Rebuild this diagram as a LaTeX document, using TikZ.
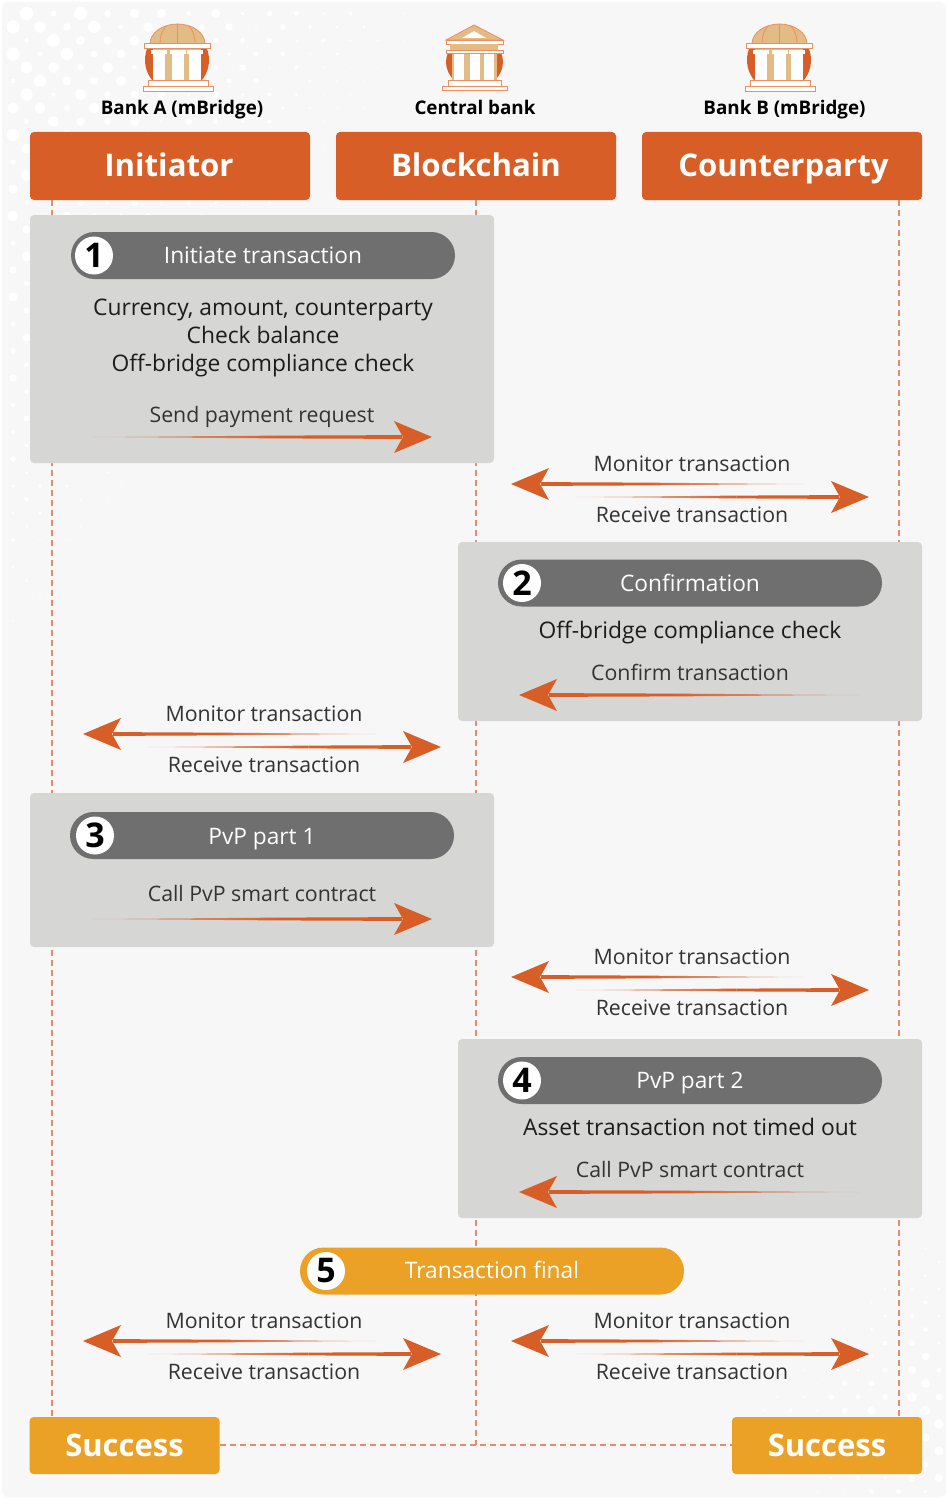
\documentclass[tikz,border=0pt]{standalone}
\usepackage{fontspec}
\setmainfont{Open Sans}
\usetikzlibrary{calc}
\definecolor{pagebg}{HTML}{F7F7F7}
\definecolor{orangeA}{HTML}{D85E27}
\definecolor{amberA}{HTML}{EBA125}
\definecolor{panelA}{HTML}{D6D6D4}
\definecolor{pillA}{HTML}{6F6F6F}
\definecolor{lifeA}{HTML}{E58C6C}
\definecolor{domeA}{HTML}{E3BB85}
\definecolor{edgeA}{HTML}{EB8F5F}
\definecolor{inkA}{HTML}{1C1C1C}
\tikzset{
 header/.style={fill=orangeA,rounded corners=4pt,minimum width=280pt,minimum height=68pt,inner sep=0pt},
 headtext/.style={anchor=base,text=white,font=\fontsize{31.2}{36}\selectfont\bfseries,inner sep=0pt},
 done/.style={fill=amberA,rounded corners=4pt,minimum width=190pt,minimum height=57pt,text=white,font=\fontsize{31}{36}\selectfont\bfseries,inner sep=0pt},
 panel/.style={fill=panelA,rounded corners=4pt,minimum width=464pt,inner sep=0pt},
 pill/.style={fill=pillA,rounded corners=23.5pt,minimum width=384pt,minimum height=47pt,inner sep=0pt},
 pillgold/.style={pill,fill=amberA},
 num/.style={circle,fill=white,minimum size=38pt,inner sep=0pt,text=black,font=\fontsize{34}{36}\selectfont\bfseries},
 pilltext/.style={anchor=base,text=white,font=\fontsize{22.7}{26}\selectfont,inner sep=0pt},
 bodytext/.style={anchor=base,text=inkA,font=\fontsize{22.8}{28.4}\selectfont,inner sep=0pt},
 msg/.style={anchor=base,text=inkA!90!white,font=\fontsize{21.3}{26}\selectfont,inner sep=0pt},
 bankname/.style={anchor=base,text=black,font=\fontsize{18.8}{22}\selectfont\bfseries,inner sep=0pt},
 life/.style={draw=lifeA,line width=1.3pt,dash pattern=on 6pt off 4pt},
}
% right-pointing and left-pointing tapered message arrows
\newcommand{\rarrow}[3]{%
 \coordinate (mid) at ($(#2)!0.45!(#1)$);
 \shade[left color=orangeA!25!#3,right color=orangeA] (#1) -- ($(mid)+(0,-1.4)$) -- ($(mid)+(0,1.4)$) -- cycle;
 \fill[orangeA] ($(mid)+(0,-1.4)$) -- ($(#2)+(-30,-1.9)$) -- ($(#2)+(-30,1.9)$) -- ($(mid)+(0,1.4)$) -- cycle;
 \fill[orangeA] (#2) -- ++(-38,-16) -- ++(9,16) -- ++(-9,16) -- cycle;}
\newcommand{\larrow}[3]{%
 \coordinate (mid) at ($(#2)!0.45!(#1)$);
 \shade[right color=orangeA!25!#3,left color=orangeA] (#1) -- ($(mid)+(0,-1.4)$) -- ($(mid)+(0,1.4)$) -- cycle;
 \fill[orangeA] ($(mid)+(0,-1.4)$) -- ($(#2)+(30,-1.9)$) -- ($(#2)+(30,1.9)$) -- ($(mid)+(0,1.4)$) -- cycle;
 \fill[orangeA] (#2) -- ++(38,-16) -- ++(-9,16) -- ++(9,16) -- cycle;}
% pair of monitor / receive arrows; #1 prefix, #2 x of left tip, #3 y of upper arrow
\newcommand{\msgpair}[3]{%
 \coordinate (#1lt) at (#2,#3);
 \coordinate (#1lb) at (#2+294,#3);
 \coordinate (#1rb) at (#2+64,#3+13);
 \coordinate (#1rt) at (#2+358,#3+13);
 \larrow{#1lb}{#1lt}{pagebg}
 \rarrow{#1rb}{#1rt}{pagebg}
 \node[msg] (#1mon) at (#2+181,#3-13) {Monitor transaction};
 \node[msg] (#1rec) at (#2+181,#3+38) {Receive transaction};}
\newcommand{\domebank}[1]{%
 \begin{scope}[shift={(#1,0)}]
 \fill[orangeA] (177,60) circle (32);
 \fill[domeA,draw=edgeA,line width=.8pt] (150,44) arc (180:360:27.5 and 20) -- cycle;
 \draw[edgeA,line width=.8pt] (177.5,24) -- (177.5,44) (166,26) .. controls (161,32) and (160,38) .. (160,44) (189,26) .. controls (194,32) and (195,38) .. (195,44);
 \fill[domeA] (153,48) rectangle (201,80);
 \fill[white,draw=edgeA,line width=.8pt] (144,43) rectangle (210,48);
 \foreach \cx in {159,177.5,195}{\fill[white] (\cx-6,53) rectangle (\cx+6,80); \fill[white] (\cx-8,50) rectangle (\cx+8,54);}
 \fill[white,draw=edgeA,line width=.7pt] (148,80) rectangle (208,86);
 \fill[white,draw=edgeA,line width=.7pt] (143,86) rectangle (213,91);
 \end{scope}}
\begin{document}
\begin{tikzpicture}[x=1pt,y=-1pt]
\useasboundingbox (0,0) rectangle (948,1501);
\fill[white] (0,0) rectangle (948,1501);
\fill[pagebg,rounded corners=5pt] (2,2) rectangle (946,1497);
% background dots
\begin{scope}
\clip (2,2) rectangle (946,1497);
\foreach \j in {1,...,50}{\foreach \i in {0,...,18}{
 \pgfmathsetmacro{\px}{13+27*\i+mod(\j,2)*13.5}
 \pgfmathsetmacro{\py}{13.5*\j}
 \pgfmathsetmacro{\dd}{1-(\px/480+\py/760)}
 \pgfmathsetmacro{\rr}{max(\dd,0)*8*(0.3+0.7*abs(sin(\i*73+\j*119)))}
 \ifdim\rr pt>0.4pt \fill[white] (\px,\py) circle (\rr); \fi
}}
\foreach \k in {-12,...,11}{\foreach \i in {0,...,9}{
 \pgfmathsetmacro{\px}{939-27*\i-mod(\k,2)*13.5}
 \pgfmathsetmacro{\py}{1343+13.5*\k}
 \pgfmathsetmacro{\dd}{1-((946-\px)/260+abs(\py-1420)/230)}
 \pgfmathsetmacro{\rr}{max(\dd,0)*6*(0.4+0.6*abs(sin(\i*61+\k*97)))}
 \ifdim\rr pt>0.4pt \fill[white] (\px,\py) circle (\rr); \fi
}}
\end{scope}
% header nodes
\node[header] (init) at (170,166) {};
\node[header] (chain) at (476,166) {};
\node[header] (cpty) at (782,166) {};
\node[headtext] at (169,176) {Initiator};
\node[headtext] at (476,176) {Blockchain};
\node[headtext] at (783.5,176) {Counterparty};
\node[done] (okA) at (124.5,1445.5) {Success};
\node[done] (okB) at (827,1445.5) {Success};
\coordinate (lineA) at (52,200);
\coordinate (lineB) at (899,200);
\coordinate (lineC) at (476,200);
\coordinate (footC) at (476,1445);
\draw[life] (lineA) -- (lineA |- okA.north);
\draw[life] (lineB) -- (lineB |- okB.north);
\draw[life] (lineC) -- (footC);
\draw[life] (okA.east |- footC) -- (okB.west |- footC);
% icons
\domebank{0}
\domebank{602}
\begin{scope}
 \begin{scope}
  \clip (440,53) rectangle (510,80);
  \fill[orangeA] (474.5,62) ellipse (28.5 and 26);
 \end{scope}
 \fill[domeA] (452,52) rectangle (497,80);
 \fill[domeA,draw=edgeA,line width=.8pt] (474,25) -- (503,40) -- (446,40) -- cycle;
 \fill[white] (474,31) -- (486,38) -- (462,38) -- cycle;
 \fill[white,draw=edgeA,line width=.7pt] (446,40) rectangle (503,44);
 \fill[domeA] (450,44) rectangle (498,50);
 \fill[white,draw=edgeA,line width=.7pt] (446,50) rectangle (503,53);
 \foreach \cx in {458.5,474.5,489}{\fill[white] (\cx-5,54) rectangle (\cx+5,80);}
 \fill[white,draw=edgeA,line width=.7pt] (448,80) rectangle (501,86);
 \fill[white,draw=edgeA,line width=.7pt] (442,86) rectangle (507,90);
\end{scope}
\node[bankname] (bankA) at (182,114.5) {Bank A (mBridge)};
\node[bankname] (bankC) at (475,115) {Central bank};
\node[bankname] (bankB) at (784.5,114.5) {Bank B (mBridge)};
% panels
\node[panel,minimum height=248pt] (p1) at (262,339) {};
\node[panel,minimum height=179pt] (p2) at (690,631.5) {};
\node[panel,minimum height=154pt] (p3) at (262,870) {};
\node[panel,minimum height=179pt] (p4) at (690,1128.5) {};
% pills
\node[pill] (s1) at (263,255.5) {};
\node[num] (n1) at (94,255.5) {1};
\node[pilltext] at (263,263) {Initiate transaction};
\node[pill] (s2) at (690,583) {};
\node[num] (n2) at (522,583) {2};
\node[pilltext] at (690,591) {Confirmation};
\node[pill] (s3) at (262,835.5) {};
\node[num] (n3) at (95,835.5) {3};
\node[pilltext] at (262,844) {PvP part 1};
\node[pill] (s4) at (690,1080.5) {};
\node[num] (n4) at (522,1080.5) {4};
\node[pilltext] at (690,1088) {PvP part 2};
\node[pillgold] (s5) at (492,1271) {};
\node[num] (n5) at (326,1271) {5};
\node[pilltext] at (492,1278) {Transaction final};
% panel text
\node[bodytext] (t1a) at (263,315) {Currency, amount, counterparty};
\node[bodytext] (t1b) at (263,343.5) {Check balance};
\node[bodytext] (t1c) at (263,371.5) {Off-bridge compliance check};
\node[msg] (m1) at (262,422.5) {Send payment request};
\coordinate (a1s) at (92,437); \coordinate (a1e) at (432,437);
\rarrow{a1s}{a1e}{panelA}
\node[bodytext] (t2) at (690,638) {Off-bridge compliance check};
\node[msg] (m2) at (690,680.5) {Confirm transaction};
\coordinate (a2s) at (860,695); \coordinate (a2e) at (519,695);
\larrow{a2s}{a2e}{panelA}
\node[msg] (m3) at (262,901.5) {Call PvP smart contract};
\coordinate (a3s) at (92,919); \coordinate (a3e) at (432,919);
\rarrow{a3s}{a3e}{panelA}
\node[bodytext] (t4) at (690,1135) {Asset transaction not timed out};
\node[msg] (m4) at (690,1177.5) {Call PvP smart contract};
\coordinate (a4s) at (860,1192); \coordinate (a4e) at (519,1192);
\larrow{a4s}{a4e}{panelA}
% monitor / receive pairs
\msgpair{pa}{511}{484}
\msgpair{pb}{83}{734}
\msgpair{pc}{511}{977}
\msgpair{pd}{83}{1341}
\msgpair{pe}{511}{1341}
\end{tikzpicture}
\end{document}
